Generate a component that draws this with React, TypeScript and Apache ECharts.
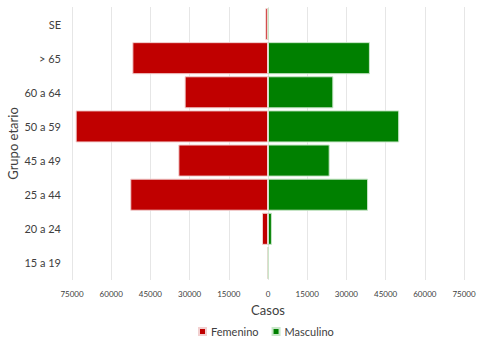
import React, { useEffect, useRef } from "react";
import * as echarts from "echarts";

const categories = ["15 a 19", "20 a 24", "25 a 44", "45 a 49", "50 a 59", "60 a 64", "> 65", "SE"];
const femenino = [200, 2300, 52700, 34300, 73600, 31900, 51900, 1000];
const masculino = [200, 1500, 38300, 23600, 50200, 25000, 39000, 300];
const xTicks = [-75000, -60000, -45000, -30000, -15000, 0, 15000, 30000, 45000, 60000, 75000];

const FONT = "Lato";

export default function App() {
  const ref = useRef<HTMLDivElement>(null);
  useEffect(() => {
    if (!ref.current) return;
    const chart = echarts.init(ref.current, undefined, { renderer: "svg" });
    chart.setOption({
      animation: false,
      textStyle: { fontFamily: FONT },
      grid: { left: 72, right: 13, top: 7, bottom: 61, containLabel: false, outerBoundsMode: "none" },
      legend: {
        top: 321,
        left: 193,
        itemWidth: 7,
        itemHeight: 7,
        itemGap: 13,
        icon: "rect",
        textStyle: { fontFamily: FONT, fontSize: 11, color: "#404040" },
        data: ["Femenino", "Masculino"],
      },
      xAxis: {
        type: "value",
        min: xTicks[0],
        max: xTicks[xTicks.length - 1],
        interval: 15000,
        name: "Casos",
        nameLocation: "middle",
        nameGap: 23,
        nameMoveOverlap: false,
        nameTextStyle: { fontFamily: FONT, fontSize: 13, color: "#404040" },
        axisLine: { show: false },
        axisTick: { show: false },
        axisLabel: {
          fontSize: 8,
          color: "#404040",
          margin: 10,
          formatter: (v: number) => String(Math.abs(v)),
        },
        splitLine: { show: true, lineStyle: { color: "#e6e6e6", width: 1 } },
      },
      yAxis: {
        type: "category",
        data: categories,
        name: "Grupo etario",
        nameLocation: "middle",
        nameGap: 53,
        nameRotate: 90,
        nameMoveOverlap: false,
        nameTextStyle: { fontFamily: FONT, fontSize: 13, color: "#404040" },
        axisLine: { show: false },
        axisTick: { show: false },
        axisLabel: { fontSize: 11, color: "#404040", margin: 11 },
        splitLine: { show: false },
      },
      series: [
        {
          name: "Femenino",
          type: "bar",
          stack: "total",
          barCategoryGap: "6%",
          data: femenino.map((v) => -v),
          itemStyle: { color: "#C00000", borderColor: "#f2d0d0", borderWidth: 1 },
        },
        {
          name: "Masculino",
          type: "bar",
          stack: "total",
          barCategoryGap: "6%",
          data: masculino,
          itemStyle: { color: "#008000", borderColor: "#c8e6c8", borderWidth: 1 },
        },
      ],
    });
    return () => chart.dispose();
  }, []);
  return <div ref={ref} style={{ width: 477, height: 341, position: "absolute", left: 0, top: 0 }} />;
}
